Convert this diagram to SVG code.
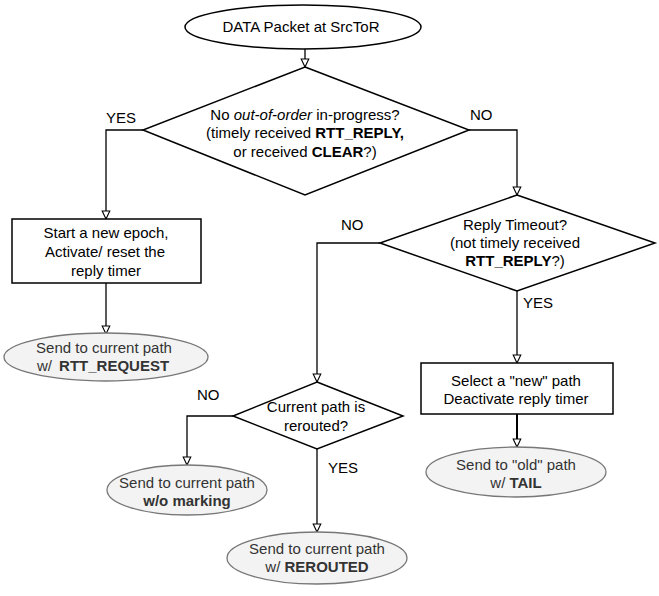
<svg xmlns="http://www.w3.org/2000/svg" width="659" height="596" viewBox="0 0 659 596">
<style>
text{font-family:"Liberation Sans",Arial,sans-serif;font-size:15px;fill:#000;text-anchor:middle}
.lbl{text-anchor:start}
.g text{fill:#333}
.b{font-weight:bold}
.shape{fill:#fff;stroke:#000;stroke-width:1.5}
.term{fill:#f3f3f3;stroke:#777;stroke-width:1.3}
.conn{fill:none;stroke:#000;stroke-width:1.3;marker-end:url(#ah)}
</style>
<defs>
<marker id="ah" markerUnits="userSpaceOnUse" markerWidth="10" markerHeight="10" refX="9" refY="4.5" orient="auto" viewBox="0 0 10 9">
<path d="M1,0.7 L9,4.5 L1,8.3 z" fill="#fff" stroke="#000" stroke-width="1.1"/>
</marker>
</defs>
<g id="connectors">
<path class="conn" d="M305,49 V67"/>
<path class="conn" d="M143,130 H106 V219"/>
<path class="conn" d="M106,283 V334"/>
<path class="conn" d="M469,130 H517 V195"/>
<path class="conn" d="M380,243 H317 V382"/>
<path class="conn" d="M517,291 V363"/>
<path class="conn" d="M517,414 V447" style="stroke-width:2"/>
<path class="conn" d="M233,416 H187 V465"/>
<path class="conn" d="M317,449 V532"/>
<text class="lbl" x="106" y="123">YES</text>
<text class="lbl" x="470" y="120">NO</text>
<text class="lbl" x="341" y="230">NO</text>
<text class="lbl" x="523" y="308">YES</text>
<text class="lbl" x="197" y="400">NO</text>
<text class="lbl" x="328" y="473">YES</text>
</g>
<g id="start">
<ellipse class="shape" cx="303" cy="27" rx="118" ry="22"/>
<text x="301" y="32">DATA Packet at SrcToR</text>
</g>
<g id="d1">
<polygon class="shape" points="305,67 469,130 305,195 143,130"/>
<text x="305" y="120">No <tspan font-style="italic">out-of-order</tspan> in-progress?</text>
<text x="305" y="138">(timely received <tspan class="b">RTT_REPLY,</tspan></text>
<text x="305" y="157">or received <tspan class="b">CLEAR</tspan>?)</text>
</g>
<g id="box1">
<rect class="shape" x="12" y="219" width="189" height="64"/>
<text x="106" y="238">Start a new epoch,</text>
<text x="105" y="257">Activate/ reset the</text>
<text x="106" y="276">reply timer</text>
</g>
<g id="e1" class="g">
<ellipse class="term" cx="106" cy="357" rx="102" ry="24"/>
<text x="104" y="353">Send to current path</text>
<text x="103" y="371">w/ <tspan class="b" dx="3">RTT_REQUEST</tspan></text>
</g>
<g id="d2">
<polygon class="shape" points="517,195 655,243 517,291 380,243"/>
<text x="515" y="230">Reply Timeout?</text>
<text x="515" y="248">(not timely received</text>
<text x="515" y="266"><tspan class="b">RTT_REPLY</tspan>?)</text>
</g>
<g id="box2">
<rect class="shape" x="421" y="363" width="192" height="51"/>
<text x="516" y="386">Select a "new" path</text>
<text x="516" y="404">Deactivate reply timer</text>
</g>
<g id="e3" class="g">
<ellipse class="term" cx="516" cy="472" rx="90" ry="25"/>
<text x="516" y="470">Send to "old" path</text>
<text x="516" y="488">w/ <tspan class="b">TAIL</tspan></text>
</g>
<g id="d3">
<polygon class="shape" points="317,382 403,416 317,449 233,416"/>
<text x="316" y="412">Current path is</text>
<text x="316" y="431">rerouted?</text>
</g>
<g id="e4" class="g">
<ellipse class="term" cx="187" cy="490" rx="80" ry="25"/>
<text x="187" y="488">Send to current path</text>
<text x="187" y="506" class="b">w/o marking</text>
</g>
<g id="e5" class="g">
<ellipse class="term" cx="317" cy="558" rx="90" ry="26"/>
<text x="317" y="554">Send to current path</text>
<text x="317" y="572">w/ <tspan class="b">REROUTED</tspan></text>
</g>
</svg>
